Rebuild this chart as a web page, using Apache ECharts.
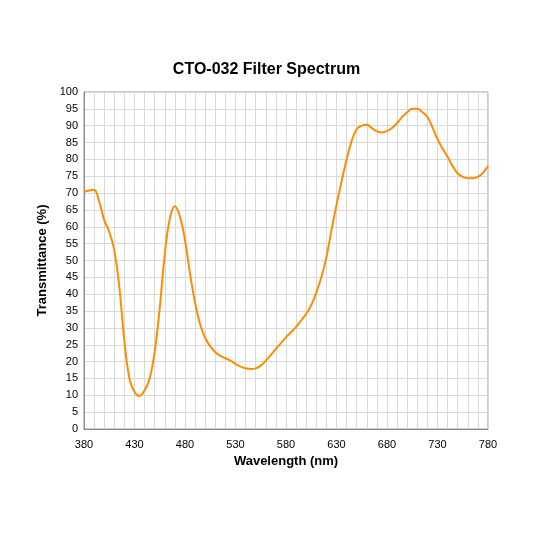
<!DOCTYPE html>
<html>
<head>
<meta charset="utf-8">
<script src="https://cdn.jsdelivr.net/npm/echarts@6/dist/echarts.min.js"></script>
<style>html,body{margin:0;padding:0;background:#fff}#chart{width:533px;height:533px}</style>
</head>
<body>
<div id="chart"></div>
<script>
// wavelength (nm), sampled every 5 nm
const wavelengths = [];
for (let w = 380; w <= 780; w += 5) wavelengths.push(w);
// transmittance (%)
const transmittance = [
  70.4, 70.8, 71, 67.5, 62, 58.5, 53, 42, 26, 15,
  11, 9.8, 11.5, 15, 23, 36, 52, 62.5, 66.1, 63,
  56, 46, 37.4, 31, 27, 24.5, 22.8, 21.7, 21, 20.3,
  19.3, 18.5, 18, 17.8, 18, 18.8, 20.3, 22, 23.8, 25.5,
  27.2, 28.7, 30.3, 32.2, 34.2, 36.8, 40.5, 45, 51, 59,
  66.5, 73.5, 80, 85.5, 89, 90, 90.3, 89.3, 88.3, 88,
  88.4, 89.3, 90.8, 92.6, 94, 95, 95, 94, 92.6, 89.5,
  86, 83.2, 80.7, 78, 75.8, 74.8, 74.4, 74.4, 74.8, 76,
  78
];
const xLabelStep = 50;

const chart = echarts.init(document.getElementById('chart'));
const font = 'Liberation Sans, Arial, sans-serif';
chart.setOption({
  animation: false,
  title: {
    text: 'CTO-032 Filter Spectrum',
    left: 'center', top: 57,
    textStyle: { fontFamily: font, fontSize: 16, fontWeight: 'bold', color: '#000' }
  },
  grid: { left: 84, right: 45, top: 92, bottom: 104, show: true, borderColor: '#999', borderWidth: 1 },
  xAxis: {
    type: 'value', min: 380, max: 780, interval: 10,
    name: 'Wavelength (nm)', nameLocation: 'middle', nameGap: 23,
    nameTextStyle: { fontFamily: font, fontSize: 13, fontWeight: 'bold', color: '#000' },
    axisLine: { lineStyle: { color: '#888' } },
    axisTick: { show: false },
    axisLabel: {
      fontFamily: font, fontSize: 11, color: '#000', margin: 10,
      formatter: v => ((v - 380) % xLabelStep === 0 ? String(v) : '')
    },
    splitLine: { show: true, lineStyle: { color: '#d9d9d9' } }
  },
  yAxis: {
    type: 'value', min: 0, max: 100, interval: 5,
    name: 'Transmittance (%)', nameLocation: 'middle', nameGap: 34,
    nameTextStyle: { fontFamily: font, fontSize: 13, fontWeight: 'bold', color: '#000' },
    axisLine: { show: true, lineStyle: { color: '#888' } },
    axisTick: { show: false },
    axisLabel: { fontFamily: font, fontSize: 11, color: '#000', margin: 6 },
    splitLine: { show: true, lineStyle: { color: '#d9d9d9' } }
  },
  series: [{
    type: 'line',
    data: wavelengths.map((w, i) => [w, transmittance[i]]),
    smooth: 0.4,
    showSymbol: false,
    lineStyle: { color: '#ff8c00', width: 2 }
  }]
});
</script>
</body>
</html>
